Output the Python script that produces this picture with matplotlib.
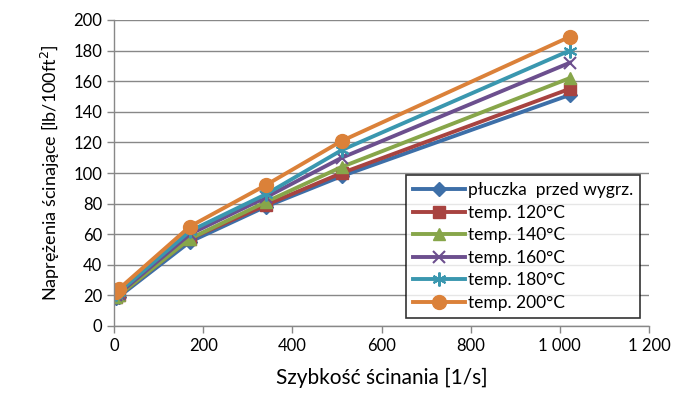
import matplotlib
matplotlib.use("Agg")
import matplotlib.pyplot as plt
from matplotlib.ticker import FuncFormatter, MultipleLocator

plt.rcParams['font.family'] = ['Lato', 'DejaVu Sans']

shear_rate = [5.1, 10.2, 170, 340, 511, 1022]
series = {
    "płuczka  przed wygrz.": [18, 19, 55, 78, 98, 151],
    "temp. 120°C": [19, 20, 57, 79, 100, 155],
    "temp. 140°C": [19, 20, 57, 81, 104, 162],
    "temp. 160°C": [20, 21, 60, 84, 110, 172],
    "temp. 180°C": [21, 22, 62, 86, 115, 180],
    "temp. 200°C": [22, 24, 65, 92, 121, 189],
}
colors = ["#3D6FA8", "#A84340", "#87A64A", "#6C4F8E", "#3A97AF", "#DB8139"]
markers = ["D", "s", "^", "x", "*", "o"]
msizes = [7, 8, 9, 9, 10, 10]

fig = plt.figure(figsize=(6.77, 4.01), dpi=100)
ax = fig.add_axes([114/677, 1-326/401, (649-114)/677, (326-20)/401])

for (name, vals), c, m, ms in zip(series.items(), colors, markers, msizes):
    if m in ("x", "*"):
        ax.plot(shear_rate, vals, color=c, lw=2.8, marker="x" if m == "x" else (6, 2, 0), ms=ms, mew=1.5, label=name)
    else:
        ax.plot(shear_rate, vals, color=c, lw=2.8, marker=m, ms=ms, label=name)

ax.set_xlim(0, 1200)
ax.set_ylim(0, 200)
ax.xaxis.set_major_locator(MultipleLocator(200))
ax.yaxis.set_major_locator(MultipleLocator(20))
ax.xaxis.set_major_formatter(FuncFormatter(lambda v, p: f"{int(v):,}".replace(",", " ")))
ax.grid(axis="y", color="#888888", lw=1)
ax.set_axisbelow(True)
for s in ["top", "right"]:
    ax.spines[s].set_visible(False)
for s in ["left", "bottom"]:
    ax.spines[s].set_color("#888888")
    ax.spines[s].set_linewidth(1)
ax.tick_params(axis="both", colors="#888888", labelcolor="black", labelsize=12, length=5, width=1)

ax.set_xlabel("Szybkość ścinania [1/s]", fontsize=15, labelpad=10)
ax.set_ylabel("Naprężenia ścinające [lb/100ft$^2$]", fontsize=13, labelpad=8)

leg = ax.legend(loc="lower right", bbox_to_anchor=(1-9/535, 8/306), borderaxespad=0,
                fontsize=12.5, frameon=True, fancybox=False, edgecolor="black",
                handlelength=3.0, borderpad=0.4, labelspacing=0.38, handletextpad=0.15)
leg.get_frame().set_linewidth(1.2)

fig.savefig("out.png", dpi=100)
